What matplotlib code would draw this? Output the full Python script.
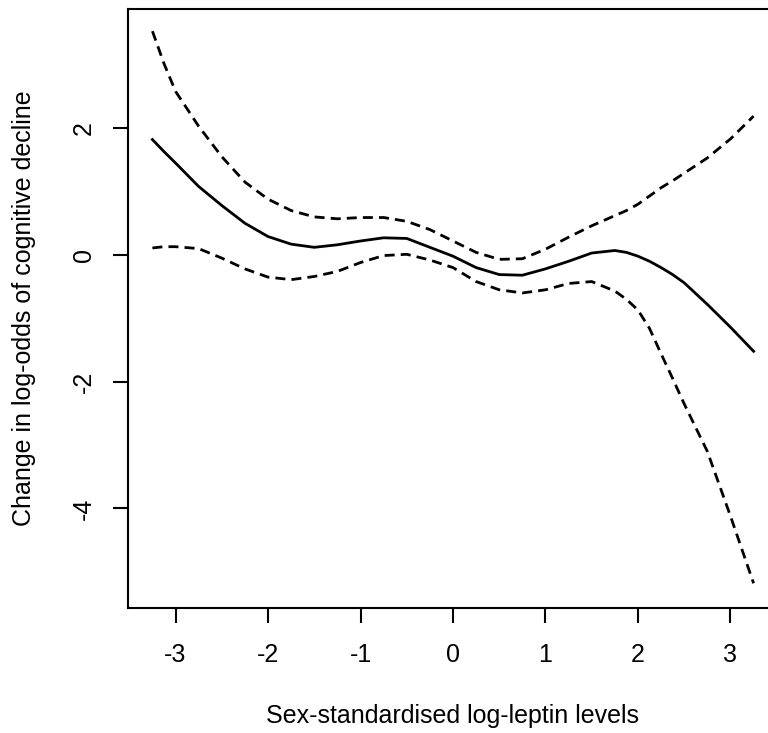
import numpy as np
from matplotlib import pyplot as plt

plt.rcParams["font.family"] = ["Liberation Sans", "DejaVu Sans"]

# smooth term and its confidence band
leptin = [-3.25, -3.125, -3.0, -2.75, -2.5, -2.25, -2.0, -1.75, -1.5, -1.25, -1.0, -0.75, -0.5, -0.25,
          0.0, 0.25, 0.5, 0.75, 1.0, 1.25, 1.5, 1.75, 1.875, 2.0, 2.125, 2.25, 2.375, 2.5, 2.75, 3.0, 3.25]
fit = [1.82, 1.63, 1.45, 1.08, 0.78, 0.50, 0.29, 0.17, 0.12, 0.16, 0.22, 0.27, 0.26, 0.12,
       -0.02, -0.20, -0.31, -0.32, -0.22, -0.10, 0.03, 0.07, 0.04, -0.02, -0.10, -0.20, -0.31, -0.44, -0.78, -1.14, -1.52]
upper = [3.53, 3.02, 2.58, 2.03, 1.55, 1.15, 0.88, 0.70, 0.60, 0.57, 0.59, 0.59, 0.53, 0.40,
         0.22, 0.04, -0.07, -0.06, 0.09, 0.28, 0.46, 0.62, 0.70, 0.80, 0.93, 1.06, 1.17, 1.29, 1.53, 1.83, 2.19]
lower = [0.11, 0.13, 0.13, 0.10, -0.05, -0.22, -0.35, -0.39, -0.34, -0.26, -0.12, -0.01, 0.01, -0.08,
         -0.20, -0.42, -0.55, -0.60, -0.55, -0.45, -0.42, -0.57, -0.70, -0.87, -1.16, -1.56, -1.95, -2.35, -3.10, -4.12, -5.18]

xticks = [-3, -2, -1, 0, 1, 2, 3]
yticks = [-4, -2, 0, 2]

fig = plt.figure(figsize=(7.68, 7.33), dpi=100)
ax = fig.add_axes([128 / 768, 1 - 608 / 733, 650 / 768, 598.7 / 733])

ax.plot(leptin, fit, color="black", lw=2.0)
ax.plot(leptin, upper, color="black", lw=2.0, dashes=(3.6, 2.2))
ax.plot(leptin, lower, color="black", lw=2.0, dashes=(3.6, 2.2))

ax.set_xlim(-3.514, 3.514)
ax.set_ylim(-5.57, 3.875)
ax.set_xticks(xticks)
ax.set_yticks(yticks)
ax.set_xticklabels([str(v) for v in xticks])
ax.set_yticklabels([str(v) for v in yticks], rotation=90, va="center")
ax.tick_params(direction="out", length=11, width=1.5, labelsize=18, colors="black")
ax.tick_params(axis="x", pad=14)
ax.tick_params(axis="y", pad=12)
for s in ax.spines.values():
    s.set_linewidth(1.5)

ax.set_xlabel("Sex-standardised log-leptin levels", fontsize=18, labelpad=27)
ax.set_ylabel("Change in log-odds of cognitive decline", fontsize=18, labelpad=26)

fig.savefig("out.png", dpi=100)
